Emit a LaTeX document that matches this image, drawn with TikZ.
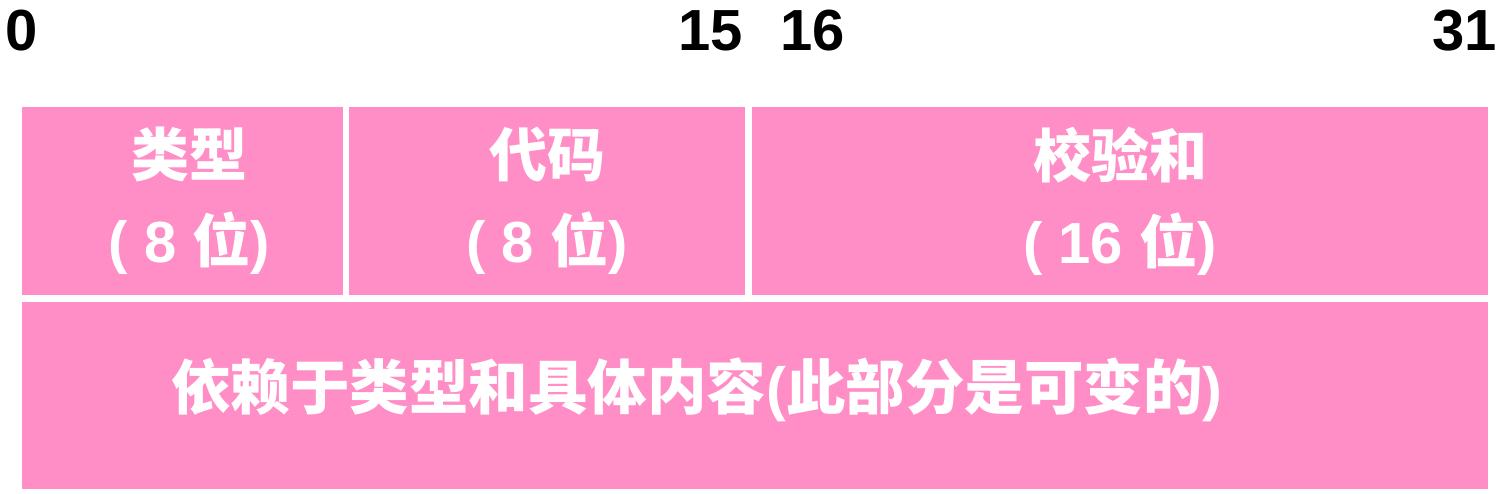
\documentclass[tikz,border=0pt]{standalone}
\usepackage{fontspec}
\usetikzlibrary{positioning}
\newfontfamily\numfont{Liberation Sans}
\newfontfamily\cjkfont{Noto Sans CJK SC}
\definecolor{fieldpink}{HTML}{FF8DC6}

\begin{document}
\begin{tikzpicture}[x=1pt,y=1pt,
    field/.style={fill=fieldpink,inner sep=0pt,minimum height=188pt,
      text=white,align=center,font=\cjkfont\bfseries\fontsize{58}{86}\selectfont},
    bitno/.style={inner sep=0pt,font=\numfont\bfseries\fontsize{58}{60}\selectfont}]
      \useasboundingbox (0,0) rectangle (1508,494);
      % bit numbers
      \node[bitno,anchor=base west] (b0) at (5,443) {0};
      \node[bitno,anchor=base east] (b15) at (743,443) {15};
      \node[bitno,anchor=base west] (b16) at (780,443) {16};
      \node[bitno,anchor=base east] (b31) at (1497,443) {31};
      % header fields
      \node[field,minimum width=321pt] (type) at (182.5,293)
        {\hspace*{14pt}类型\\\hspace*{14pt}{\numfont( 8 }位{\numfont)}};
      \node[field,minimum width=396pt] (code) at (547,293)
        {代码\\{\numfont( 8 }位{\numfont)}};
      \node[field,minimum width=736pt] (cksum) at (1120,293)
        {校验和\\{\numfont( 16 }位{\numfont)}};
      % body
      \node[field,minimum width=1466pt,minimum height=187pt] (body) at (755,98.5) {};
      \node[text=white,inner sep=0pt,font=\cjkfont\bfseries\fontsize{59.5}{70}\selectfont]
        (bodytxt) at (697,104)
        {依赖于类型和具体内容{\numfont(}此部分是可变的{\numfont)}};
    \end{tikzpicture}
\end{document}
